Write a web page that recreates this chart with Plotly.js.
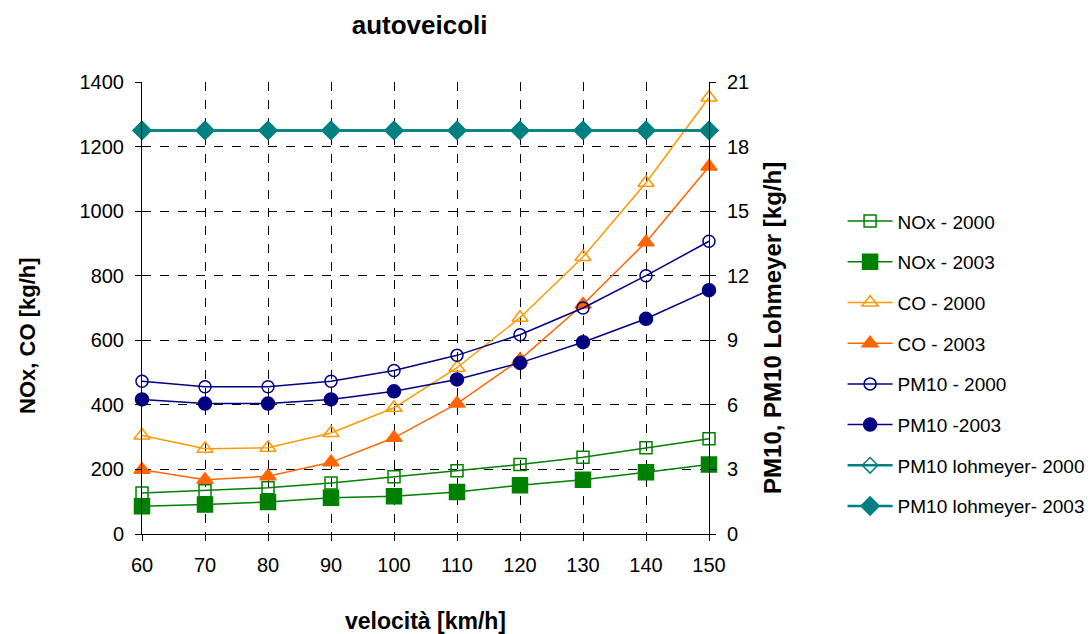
<!DOCTYPE html>
<html>
<head>
<meta charset="utf-8">
<script src="https://cdn.plot.ly/plotly-3.0.1.min.js"></script>
<style>
  html, body { margin: 0; padding: 0; background: #fff; }
  #chart { width: 1090px; height: 634px; }
</style>
</head>
<body>
<div id="chart"></div>
<script>
// Velocità [km/h]
const speeds = [60, 70, 80, 90, 100, 110, 120, 130, 140, 150];

// NOx e CO [kg/h] (asse sinistro)
const nox2000 = [127, 134, 143, 158, 177, 196, 215, 238, 267, 295];
const nox2003 = [86, 91, 99, 112, 117, 130, 151, 168, 191, 215];
const co2000  = [305, 264, 267, 313, 391, 515, 670, 858, 1088, 1352];
const co2003  = [199, 168, 179, 222, 298, 404, 540, 711, 904, 1138];

// PM10 [kg/h] (asse destro)
const pm2000  = [7.1, 6.84, 6.84, 7.1, 7.6, 8.3, 9.26, 10.5, 12.0, 13.6];
const pm2003  = [6.25, 6.06, 6.06, 6.25, 6.63, 7.18, 7.95, 8.91, 10.0, 11.33];
const lohm2000 = [18.75, 18.75, 18.75, 18.75, 18.75, 18.75, 18.75, 18.75, 18.75, 18.75];
const lohm2003 = [18.75, 18.75, 18.75, 18.75, 18.75, 18.75, 18.75, 18.75, 18.75, 18.75];

const leftTicks = [0, 200, 400, 600, 800, 1000, 1200, 1400];
const rightTicks = [0, 3, 6, 9, 12, 15, 18, 21];

const FONT = 'Liberation Sans, Arial, sans-serif';

function series(name, y, color, symbol, size, axis, width, group) {
  return {
    type: 'scatter', mode: 'lines+markers', name: name,
    x: speeds, y: y, yaxis: axis, cliponaxis: false,
    legendgroup: group,
    line: { color: color, width: width },
    marker: { symbol: symbol, size: size, color: color,
              line: { color: color, width: 1.5 } }
  };
}

const traces = [
  series('NOx - 2000', nox2000, '#008000', 'square-open', 12, 'y', 1.5, 'g1'),
  series('NOx - 2003', nox2003, '#008000', 'square', 15, 'y', 1.5, 'g2'),
  series('CO - 2000', co2000, '#FF9900', 'triangle-up-open', 14, 'y', 1.5, 'g3'),
  series('CO - 2003', co2003, '#FF6600', 'triangle-up', 14, 'y', 1.5, 'g4'),
  series('PM10 - 2000', pm2000, '#000080', 'circle-open', 12, 'y2', 1.5, 'g5'),
  series('PM10 -2003', pm2003, '#000080', 'circle', 13, 'y2', 1.5, 'g6'),
  series('PM10 lohmeyer- 2000', lohm2000, '#008080', 'diamond-open', 12, 'y2', 2.5, 'g7'),
  series('PM10 lohmeyer- 2003', lohm2003, '#008080', 'diamond', 14, 'y2', 2.5, 'g8')
];

const layout = {
  width: 1090, height: 634,
  margin: { l: 142, r: 381, t: 82, b: 100 },
  paper_bgcolor: '#fff', plot_bgcolor: '#fff',
  font: { family: FONT, size: 20, color: '#000' },
  showlegend: true,
  hovermode: false,
  title: { text: '<b>autoveicoli</b>', x: 0.385, xanchor: 'center', y: 0.96, yanchor: 'middle',
           font: { family: FONT, size: 26, color: '#000' } },
  xaxis: {
    range: [60, 150], tickvals: speeds, ticks: 'outside', ticklen: 6, tickcolor: '#000',
    showline: true, linecolor: '#000', linewidth: 1, mirror: false,
    showgrid: true, gridcolor: '#000', griddash: 'dash', gridwidth: 1,
    zeroline: false, ticklabelstandoff: 7,
    tickfont: { family: FONT, size: 20 },
    title: { text: '<b>velocità [km/h]</b>', standoff: 40, font: { family: FONT, size: 23 } }
  },
  yaxis: {
    range: [0, 1400], tickvals: leftTicks, ticks: 'outside', ticklen: 6, tickcolor: '#000',
    showline: true, linecolor: '#000', linewidth: 1,
    showgrid: true, gridcolor: '#000', griddash: 'dash', gridwidth: 1,
    zeroline: false, ticklabelstandoff: 7,
    tickfont: { family: FONT, size: 20 }
  },
  yaxis2: {
    overlaying: 'y', side: 'right',
    range: [0, 21], tickvals: rightTicks, ticks: 'outside', ticklen: 6, tickcolor: '#000',
    showline: true, linecolor: '#000', linewidth: 1,
    showgrid: false, zeroline: false, ticklabelstandoff: 7,
    tickfont: { family: FONT, size: 20 }
  },
  // Vertical axis titles, set as rotated labels beside each axis
  annotations: [
    { text: '<b>NOx, CO [kg/h]</b>', xref: 'paper', yref: 'paper',
      x: -0.203, y: 0.438, xanchor: 'center', yanchor: 'middle',
      textangle: -90, showarrow: false, font: { family: FONT, size: 22 } },
    { text: '<b>PM10, PM10 Lohmeyer [kg/h]</b>', xref: 'paper', yref: 'paper',
      x: 1.113, y: 0.456, xanchor: 'center', yanchor: 'middle',
      textangle: -90, showarrow: false, font: { family: FONT, size: 24 } }
  ],
  legend: {
    xref: 'container', yref: 'container',
    x: 0.773, xanchor: 'left', y: 0.681, yanchor: 'top',
    font: { family: FONT, size: 19 },
    tracegroupgap: 13, bgcolor: 'rgba(0,0,0,0)', borderwidth: 0,
    itemwidth: 45
  }
};

Plotly.newPlot('chart', traces, layout, { staticPlot: true, displayModeBar: false });
</script>
</body>
</html>
